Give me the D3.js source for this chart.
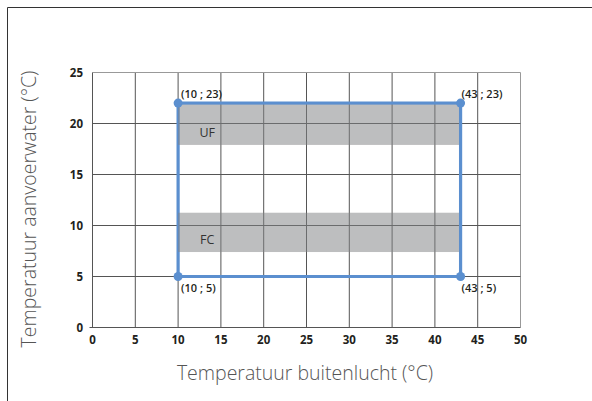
<!DOCTYPE html>
<html>
<head>
<meta charset="utf-8">
<script src="https://cdn.jsdelivr.net/npm/d3@7"></script>
<style>
  html, body { margin: 0; padding: 0; background: #fff; }
  svg { display: block; }
</style>
</head>
<body>
<div id="chart"></div>
<script>
// x/y ticks
const xTicks = [0, 5, 10, 15, 20, 25, 30, 35, 40, 45, 50];
const yTicks = [0, 5, 10, 15, 20, 25];

// corner points of the operating envelope (top edge is drawn at ~22 in the source)
const cornerX = [10, 43, 43, 10];
const cornerY = [22, 22, 5, 5];
const cornerLabels = ['(10 ; 23)', '(43 ; 23)', '(43 ; 5)', '(10 ; 5)'];

// shaded bands
const bandNames = ['UF', 'FC'];
const bandLow = [17.9, 7.4];
const bandHigh = [22, 11.4];
const bandFrom = [10, 10];
const bandTo = [43, 43];

const width = 592, height = 401;

const svg = d3.select('#chart').append('svg')
  .attr('width', width)
  .attr('height', height);

// page frame (left + top only, cropped on the other sides)
svg.append('path')
  .attr('d', 'M7.5,401 L7.5,7.5 L592,7.5')
  .attr('fill', 'none')
  .attr('stroke', '#333')
  .attr('stroke-width', 1);

const x = d3.scaleLinear().domain([0, 50]).range([92.5, 520.5]);
const y = d3.scaleLinear().domain([0, 25]).range([327.5, 72.5]);

// grid
const grid = svg.append('g').attr('class', 'grid');
grid.selectAll('line.v')
  .data(xTicks.slice(1))
  .enter().append('line')
  .attr('class', 'v')
  .attr('x1', d => x(d)).attr('x2', d => x(d))
  .attr('y1', y(0)).attr('y2', y(25))
  .attr('stroke', d => d === 50 ? '#999' : '#555')
  .attr('stroke-width', 1);
grid.selectAll('line.h')
  .data(yTicks.slice(1))
  .enter().append('line')
  .attr('class', 'h')
  .attr('x1', x(0)).attr('x2', x(50))
  .attr('y1', d => y(d)).attr('y2', d => y(d))
  .attr('stroke', d => d === 25 ? '#999' : '#555')
  .attr('stroke-width', 1);

// axes lines
svg.append('line')
  .attr('x1', x(0)).attr('x2', x(0))
  .attr('y1', y(0) + 0.5).attr('y2', y(25))
  .attr('stroke', '#555');
svg.append('line')
  .attr('x1', x(0) - 3).attr('x2', x(50))
  .attr('y1', y(0)).attr('y2', y(0))
  .attr('stroke', '#555');

// tick labels
const tickFont = '"Open Sans", sans-serif';
svg.append('g').selectAll('text')
  .data(xTicks)
  .enter().append('text')
  .attr('x', d => x(d))
  .attr('y', 344)
  .attr('text-anchor', 'middle')
  .attr('font-family', tickFont)
  .attr('font-size', 11.5)
  .attr('font-weight', 700)
  .attr('fill', '#231f20')
  .text(d => d);
svg.append('g').selectAll('text')
  .data(yTicks)
  .enter().append('text')
  .attr('x', 83)
  .attr('y', d => y(d) + 4)
  .attr('text-anchor', 'end')
  .attr('font-family', tickFont)
  .attr('font-size', 11.5)
  .attr('font-weight', 700)
  .attr('fill', '#231f20')
  .text(d => d);

// envelope
const corners = cornerX.map((cx, i) => [cx, cornerY[i], cornerLabels[i]]);
const line = d3.line().x(d => x(d[0])).y(d => y(d[1])).curve(d3.curveLinearClosed);
svg.append('path')
  .datum(corners)
  .attr('d', line)
  .attr('fill', 'none')
  .attr('stroke', '#5b8fcf')
  .attr('stroke-width', 3.2);

// bands on top, translucent so grid and edge show through
const bands = bandNames.map((n, i) => ({ name: n, lo: bandLow[i], hi: bandHigh[i], x0: bandFrom[i], x1: bandTo[i] }));
svg.append('g').selectAll('rect')
  .data(bands)
  .enter().append('rect')
  .attr('x', d => x(d.x0))
  .attr('y', d => y(d.hi) + 1.5)
  .attr('width', d => x(d.x1) - x(d.x0) - 1.5)
  .attr('height', d => y(d.lo) - y(d.hi) - 1.5)
  .attr('fill', '#808285')
  .attr('fill-opacity', 0.52);

svg.append('g').selectAll('text')
  .data(bands)
  .enter().append('text')
  .attr('x', d => x(13.4))
  .attr('y', d => y((d.lo + d.hi) / 2) + 12.5)
  .attr('text-anchor', 'middle')
  .attr('font-family', tickFont)
  .attr('font-size', 12.5)
  .attr('fill', '#333')
  .text(d => d.name);

// corner dots
svg.append('g').selectAll('circle')
  .data(corners)
  .enter().append('circle')
  .attr('cx', d => x(d[0]))
  .attr('cy', d => y(d[1]))
  .attr('r', 4.5)
  .attr('fill', '#5b8fcf');

// corner labels
svg.append('g').selectAll('text')
  .data(corners)
  .enter().append('text')
  .attr('x', d => x(d[0]) + (d[0] === 10 ? 3 : 1))
  .attr('y', d => d[1] > 10 ? y(d[1]) - 5 : y(d[1]) + 15)
  .attr('font-family', tickFont)
  .attr('font-size', 11)
  .attr('font-weight', 600)
  .attr('fill', '#231f20')
  .text(d => d[2]);

// axis titles
svg.append('text')
  .attr('x', 305)
  .attr('y', 380)
  .attr('text-anchor', 'middle')
  .attr('font-family', tickFont)
  .attr('font-size', 19.5)
  .attr('font-weight', 300)
  .attr('fill', '#555')
  .text('Temperatuur buitenlucht (°C)');
svg.append('text')
  .attr('transform', 'translate(36,' + 209 + ') rotate(-90)')
  .attr('text-anchor', 'middle')
  .attr('font-family', tickFont)
  .attr('font-size', 19.5)
  .attr('font-weight', 300)
  .attr('fill', '#555')
  .text('Temperatuur aanvoerwater (°C)');
</script>
</body>
</html>
